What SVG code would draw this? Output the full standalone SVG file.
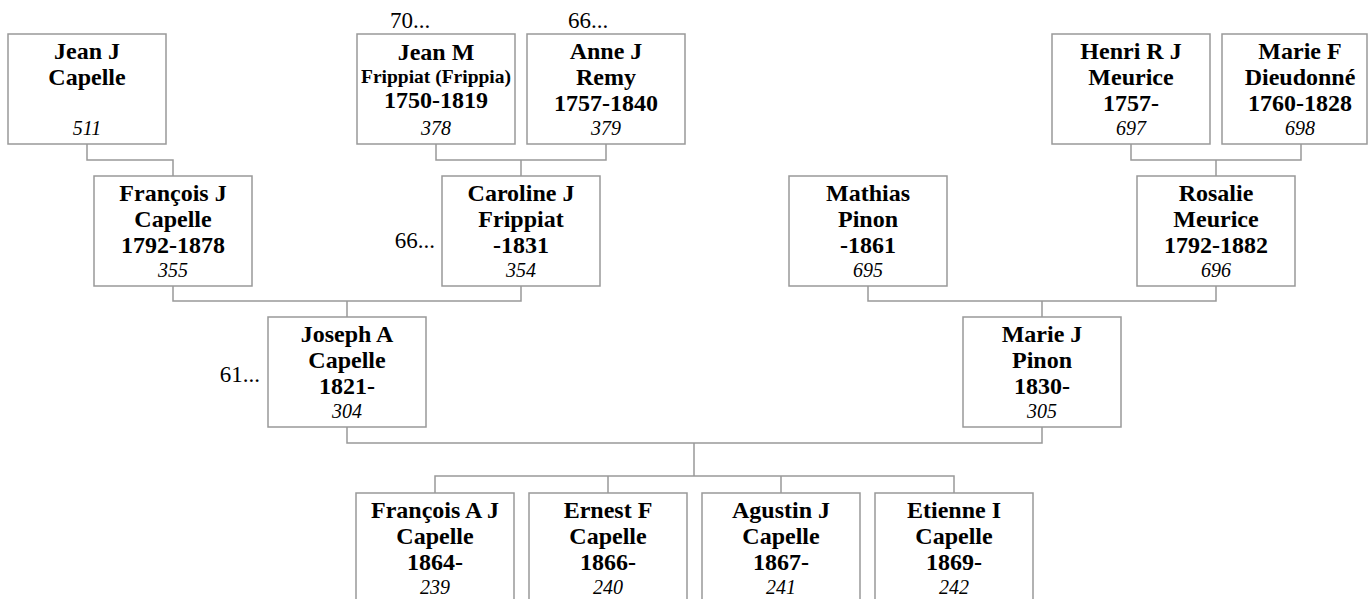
<svg xmlns="http://www.w3.org/2000/svg" width="1368" height="599" viewBox="0 0 1368 599">
<style>
.box{fill:#fff;stroke:#999;stroke-width:1.5}
.ln{fill:none;stroke:#999;stroke-width:1.5}
text{font-family:"Liberation Serif","Times New Roman",serif;fill:#000}
.n{font-size:24px;font-weight:bold;text-anchor:middle}
.s{font-size:19.5px;font-weight:bold;text-anchor:middle}
.id{font-size:20px;font-style:italic;text-anchor:middle}
.lab{font-size:23px}
</style>
<rect width="1368" height="599" fill="#fff"/>
<g id="connectors">
<path class="ln" d="M87,144 V160 H173 V176"/>
<path class="ln" d="M436,144 V160 H606 V144 M521,160 V176"/>
<path class="ln" d="M1131,144 V160 H1301 V144 M1216,160 V176"/>
<path class="ln" d="M173,285 V301 H521 V285 M347,301 V317"/>
<path class="ln" d="M868,285 V301 H1216 V285 M1042,301 V317"/>
<path class="ln" d="M347,427 V443 H1042 V427 M694,443 V476"/>
<path class="ln" d="M435,493 V476 H954 V493 M608,476 V493 M781,476 V493"/>
</g>
<g id="labels">
<text class="lab" x="410" y="28" text-anchor="middle">70...</text>
<text class="lab" x="588" y="28" text-anchor="middle">66...</text>
<text class="lab" x="435" y="248" text-anchor="end">66...</text>
<text class="lab" x="260" y="382" text-anchor="end">61...</text>
</g>
<g id="n511"><rect class="box" x="8" y="34" width="158" height="110"/>
<text class="n" x="87" y="59">Jean J</text><text class="n" x="87" y="85">Capelle</text><text class="id" x="87" y="135">511</text></g>
<g id="n378"><rect class="box" x="357" y="34" width="158" height="110"/>
<text class="n" x="436" y="60">Jean M</text><text class="s" x="436" y="83">Frippiat (Frippia)</text><text class="n" x="436" y="108">1750-1819</text><text class="id" x="436" y="135">378</text></g>
<g id="n379"><rect class="box" x="527" y="34" width="158" height="110"/>
<text class="n" x="606" y="59">Anne J</text><text class="n" x="606" y="85">Remy</text><text class="n" x="606" y="111">1757-1840</text><text class="id" x="606" y="135">379</text></g>
<g id="n697"><rect class="box" x="1052" y="34" width="158" height="110"/>
<text class="n" x="1131" y="59">Henri R J</text><text class="n" x="1131" y="85">Meurice</text><text class="n" x="1131" y="111">1757-</text><text class="id" x="1131" y="135">697</text></g>
<g id="n698"><rect class="box" x="1222" y="34" width="145" height="110"/>
<text class="n" x="1300" y="59">Marie F</text><text class="n" x="1300" y="85">Dieudonné</text><text class="n" x="1300" y="111">1760-1828</text><text class="id" x="1300" y="135">698</text></g>
<g id="n355"><rect class="box" x="94" y="176" width="158" height="110"/>
<text class="n" x="173" y="201">François J</text><text class="n" x="173" y="227">Capelle</text><text class="n" x="173" y="253">1792-1878</text><text class="id" x="173" y="277">355</text></g>
<g id="n354"><rect class="box" x="442" y="176" width="158" height="110"/>
<text class="n" x="521" y="201">Caroline J</text><text class="n" x="521" y="227">Frippiat</text><text class="n" x="521" y="253">-1831</text><text class="id" x="521" y="277">354</text></g>
<g id="n695"><rect class="box" x="789" y="176" width="158" height="110"/>
<text class="n" x="868" y="201">Mathias</text><text class="n" x="868" y="227">Pinon</text><text class="n" x="868" y="253">-1861</text><text class="id" x="868" y="277">695</text></g>
<g id="n696"><rect class="box" x="1137" y="176" width="158" height="110"/>
<text class="n" x="1216" y="201">Rosalie</text><text class="n" x="1216" y="227">Meurice</text><text class="n" x="1216" y="253">1792-1882</text><text class="id" x="1216" y="277">696</text></g>
<g id="n304"><rect class="box" x="268" y="317" width="158" height="110"/>
<text class="n" x="347" y="342">Joseph A</text><text class="n" x="347" y="368">Capelle</text><text class="n" x="347" y="394">1821-</text><text class="id" x="347" y="418">304</text></g>
<g id="n305"><rect class="box" x="963" y="317" width="158" height="110"/>
<text class="n" x="1042" y="342">Marie J</text><text class="n" x="1042" y="368">Pinon</text><text class="n" x="1042" y="394">1830-</text><text class="id" x="1042" y="418">305</text></g>
<g id="n239"><rect class="box" x="356" y="493" width="158" height="110"/>
<text class="n" x="435" y="518">François A J</text><text class="n" x="435" y="544">Capelle</text><text class="n" x="435" y="570">1864-</text><text class="id" x="435" y="594">239</text></g>
<g id="n240"><rect class="box" x="529" y="493" width="158" height="110"/>
<text class="n" x="608" y="518">Ernest F</text><text class="n" x="608" y="544">Capelle</text><text class="n" x="608" y="570">1866-</text><text class="id" x="608" y="594">240</text></g>
<g id="n241"><rect class="box" x="702" y="493" width="158" height="110"/>
<text class="n" x="781" y="518">Agustin J</text><text class="n" x="781" y="544">Capelle</text><text class="n" x="781" y="570">1867-</text><text class="id" x="781" y="594">241</text></g>
<g id="n242"><rect class="box" x="875" y="493" width="158" height="110"/>
<text class="n" x="954" y="518">Etienne I</text><text class="n" x="954" y="544">Capelle</text><text class="n" x="954" y="570">1869-</text><text class="id" x="954" y="594">242</text></g>
</svg>
